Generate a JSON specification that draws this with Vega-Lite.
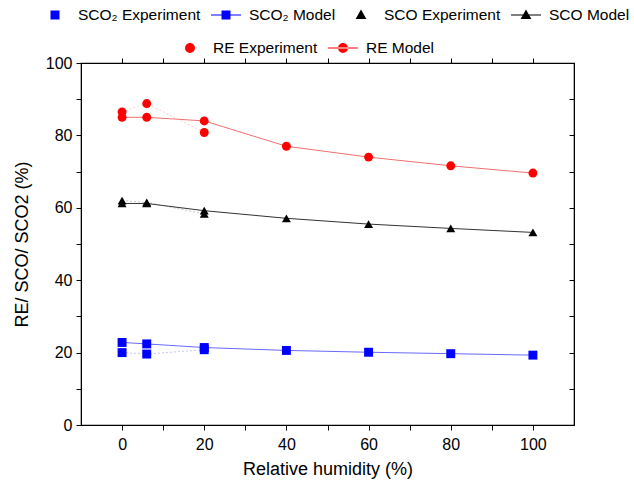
{
  "$schema": "https://vega.github.io/schema/vega-lite/v6.json",
  "width": 493,
  "height": 362,
  "autosize": "none",
  "padding": {"left": 81, "top": 63, "right": 60, "bottom": 59},
  "background": "white",
  "config": {
    "font": "Liberation Sans",
    "view": {"stroke": "black", "strokeWidth": 1.2},
    "axis": {
      "grid": false,
      "domainColor": "black",
      "tickColor": "black",
      "labelColor": "black",
      "titleColor": "black",
      "labelFontSize": 16,
      "titleFontSize": 18,
      "titleFontWeight": "normal",
      "labelFont": "Liberation Sans",
      "titleFont": "Liberation Sans"
    },
    "legend": {"labelColor": "black", "labelFont": "Liberation Sans", "symbolOpacity": 1, "gridAlign": "none"}
  },
  "datasets": {
    "d": [
      {"g": "CO2", "t": "Experiment", "s": "SCO₂ Experiment", "x": 0, "y": 20.0},
      {"g": "CO2", "t": "Experiment", "s": "SCO₂ Experiment", "x": 6, "y": 19.6},
      {"g": "CO2", "t": "Experiment", "s": "SCO₂ Experiment", "x": 20, "y": 20.8},
      {"g": "CO2", "t": "Model", "s": "SCO₂ Model", "x": 0, "y": 22.8},
      {"g": "CO2", "t": "Model", "s": "SCO₂ Model", "x": 6, "y": 22.4},
      {"g": "CO2", "t": "Model", "s": "SCO₂ Model", "x": 20, "y": 21.4},
      {"g": "CO2", "t": "Model", "s": "SCO₂ Model", "x": 40, "y": 20.6},
      {"g": "CO2", "t": "Model", "s": "SCO₂ Model", "x": 60, "y": 20.1},
      {"g": "CO2", "t": "Model", "s": "SCO₂ Model", "x": 80, "y": 19.7},
      {"g": "CO2", "t": "Model", "s": "SCO₂ Model", "x": 100, "y": 19.3},
      {"g": "CO", "t": "Experiment", "s": "SCO Experiment", "x": 0, "y": 62.0},
      {"g": "CO", "t": "Experiment", "s": "SCO Experiment", "x": 6, "y": 61.5},
      {"g": "CO", "t": "Experiment", "s": "SCO Experiment", "x": 20, "y": 58.3},
      {"g": "CO", "t": "Model", "s": "SCO Model", "x": 0, "y": 61.2},
      {"g": "CO", "t": "Model", "s": "SCO Model", "x": 6, "y": 61.2},
      {"g": "CO", "t": "Model", "s": "SCO Model", "x": 20, "y": 59.2},
      {"g": "CO", "t": "Model", "s": "SCO Model", "x": 40, "y": 57.1},
      {"g": "CO", "t": "Model", "s": "SCO Model", "x": 60, "y": 55.5},
      {"g": "CO", "t": "Model", "s": "SCO Model", "x": 80, "y": 54.3},
      {"g": "CO", "t": "Model", "s": "SCO Model", "x": 100, "y": 53.2},
      {"g": "RE", "t": "Experiment", "s": "RE Experiment", "x": 0, "y": 86.5},
      {"g": "RE", "t": "Experiment", "s": "RE Experiment", "x": 6, "y": 88.8},
      {"g": "RE", "t": "Experiment", "s": "RE Experiment", "x": 20, "y": 80.8},
      {"g": "RE", "t": "Model", "s": "RE Model", "x": 0, "y": 85.0},
      {"g": "RE", "t": "Model", "s": "RE Model", "x": 6, "y": 85.0},
      {"g": "RE", "t": "Model", "s": "RE Model", "x": 20, "y": 84.0},
      {"g": "RE", "t": "Model", "s": "RE Model", "x": 40, "y": 77.0},
      {"g": "RE", "t": "Model", "s": "RE Model", "x": 60, "y": 74.0},
      {"g": "RE", "t": "Model", "s": "RE Model", "x": 80, "y": 71.6},
      {"g": "RE", "t": "Model", "s": "RE Model", "x": 100, "y": 69.6}
    ]
  },
  "data": {"name": "d"},
  "layer": [
    {
      "transform": [{"filter": "datum.t == 'Model'"}],
      "mark": {"type": "line", "strokeWidth": 1},
      "encoding": {
        "x": {
          "field": "x", "type": "quantitative",
          "scale": {"domain": [-10, 110], "nice": false, "zero": false},
          "axis": {
            "orient": "bottom",
            "title": "Relative humidity (%)",
            "values": [0, 10, 20, 30, 40, 50, 60, 70, 80, 90, 100],
            "labelExpr": "datum.value % 20 == 0 ? datum.label : ''",
            "tickSize": 5, "labelPadding": 6, "titlePadding": 8
          }
        },
        "y": {
          "field": "y", "type": "quantitative",
          "scale": {"domain": [0, 100], "nice": false},
          "axis": {
            "orient": "left",
            "title": "RE/ SCO/ SCO2 (%)",
            "values": [0, 10, 20, 30, 40, 50, 60, 70, 80, 90, 100],
            "labelExpr": "datum.value % 20 == 0 ? datum.label : ''",
            "tickSize": 5, "labelPadding": 4, "titlePadding": 14
          }
        },
        "color": {
          "field": "g", "type": "nominal",
          "scale": {"domain": ["CO2", "CO", "RE"], "range": ["#6a6aff", "#333333", "#f07070"]},
          "legend": null
        }
      }
    },
    {
      "transform": [{"filter": "datum.t == 'Experiment'"}],
      "mark": {"type": "line", "strokeWidth": 1, "strokeDash": [2, 2], "opacity": 0.35},
      "encoding": {
        "x": {
          "field": "x", "type": "quantitative",
          "axis": {"orient": "top", "labels": false, "title": null,
                   "values": [0, 10, 20, 30, 40, 50, 60, 70, 80, 90, 100], "tickSize": 5}
        },
        "y": {
          "field": "y", "type": "quantitative",
          "axis": {"orient": "right", "labels": false, "title": null,
                   "values": [0, 10, 20, 30, 40, 50, 60, 70, 80, 90, 100], "tickSize": -5}
        },
        "color": {
          "field": "g", "type": "nominal",
          "scale": {"domain": ["CO2", "CO", "RE"], "range": ["#5a5aff", "#555555", "#f07070"]},
          "legend": null
        }
      }
    },
    {
      "mark": {"type": "point", "filled": true, "opacity": 1, "size": 80},
      "encoding": {
        "x": {"field": "x", "type": "quantitative", "axis": null},
        "y": {"field": "y", "type": "quantitative", "axis": null},
        "color": {
          "field": "g", "type": "nominal",
          "scale": {"domain": ["CO2", "CO", "RE"], "range": ["#0000ff", "#000000", "#ff0000"]},
          "legend": null
        },
        "shape": {
          "field": "g", "type": "nominal",
          "scale": {"domain": ["CO2", "CO", "RE"], "range": ["square", "triangle-up", "circle"]},
          "legend": null
        }
      }
    },
    {
      "transform": [{"filter": "datum.x < -1000"}],
      "mark": {"type": "point", "filled": true, "opacity": 1},
      "encoding": {
        "x": {"field": "x", "type": "quantitative", "axis": null},
        "y": {"field": "y", "type": "quantitative", "axis": null},
        "color": {
          "field": "s", "type": "nominal",
          "scale": {"domain": ["SCO₂ Experiment", "SCO₂ Model", "SCO Experiment", "SCO Model"],
                    "range": ["#0000ff", "#0000ff", "#000000", "#000000"]},
          "legend": {
            "orient": "none", "legendX": -41, "legendY": -63,
            "direction": "horizontal", "columns": 4, "title": null,
            "symbolSize": 900, "symbolStrokeWidth": 0, "labelFontSize": 15.5,
            "columnPadding": 10, "labelOffset": 8, "padding": 0
          }
        },
        "shape": {
          "field": "s", "type": "nominal",
          "scale": {"domain": ["SCO₂ Experiment", "SCO₂ Model", "SCO Experiment", "SCO Model"],
                    "range": [
                      "M-0.3,-0.3H0.3V0.3H-0.3Z",
                      "M-1,-0.035H1V0.035H-1Z M-0.3,-0.3H0.3V0.3H-0.3Z",
                      "M0,-0.36L0.36,0.27H-0.36Z",
                      "M-1,-0.035H1V0.035H-1Z M0,-0.36L0.36,0.27H-0.36Z"
                    ]}
        }
      }
    },
    {
      "transform": [{"filter": "datum.x < -1000"}],
      "mark": {"type": "point", "filled": true, "opacity": 1},
      "encoding": {
        "x": {"field": "x", "type": "quantitative", "axis": null},
        "y": {"field": "y", "type": "quantitative", "axis": null},
        "color": {
          "field": "s", "type": "nominal",
          "scale": {"domain": ["RE Experiment", "RE Model"], "range": ["#ff0000", "#ff0000"]},
          "legend": {
            "orient": "none", "legendX": 94, "legendY": -30,
            "direction": "horizontal", "columns": 2, "title": null,
            "symbolSize": 900, "symbolStrokeWidth": 0, "labelFontSize": 15.5,
            "columnPadding": 10, "labelOffset": 8, "padding": 0
          }
        },
        "shape": {
          "field": "s", "type": "nominal",
          "scale": {"domain": ["RE Experiment", "RE Model"],
                    "range": [
                      "M-0.33,0A0.33,0.33 0 1,0 0.33,0A0.33,0.33 0 1,0 -0.33,0Z",
                      "M-1,-0.035H1V0.035H-1Z M-0.33,0A0.33,0.33 0 1,0 0.33,0A0.33,0.33 0 1,0 -0.33,0Z"
                    ]}
        }
      }
    }
  ],
  "resolve": {
    "scale": {"color": "independent", "shape": "independent"},
    "axis": {"x": "independent", "y": "independent"}
  }
}
